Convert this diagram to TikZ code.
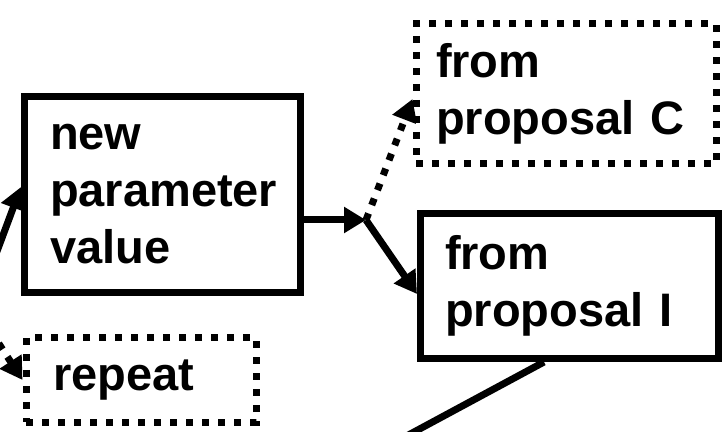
\documentclass[tikz,border=0pt]{standalone}
\usepackage{fontspec}
\setmainfont{Liberation Sans}
\usetikzlibrary{arrows.meta,positioning,backgrounds}

\begin{document}
\begin{tikzpicture}[x=1pt, y=1pt,
    every node/.style={font=\fontsize{47}{57}\selectfont\bfseries},
    stepbox/.style={draw, fill=white, line width=7pt, inner xsep=22pt, inner ysep=0pt, align=left},
    optbox/.style={stepbox, dash pattern=on 7pt off 9pt},
    flow/.style={line width=7pt, -{Triangle[length=22pt, width=25pt]}},
    optflow/.style={flow, dash pattern=on 7pt off 9pt}]
    \useasboundingbox (0,0) rectangle (728,431);
    \clip (0,0) rectangle (728,431);
    % Boxes
    \node[stepbox, inner xsep=25.5pt, text width=225pt, minimum width=276pt, minimum height=196pt] (par) at (162.5,236.5) {new\\parameter\\value};
    \node[optbox, inner xsep=20pt, text width=260pt, minimum width=300pt, minimum height=140pt] (fromC) at (566,337) {from\\proposal C};
    \node[stepbox, inner xsep=24.5pt, text width=249pt, minimum width=298pt, minimum height=145pt] (fromI) at (569.5,145) {from\\proposal I};
    \node[optbox, inner xsep=27pt, text width=176pt, minimum width=230pt, minimum height=84pt] (rep) at (141,51) {repeat};
    % Loose ends and the split point
    \coordinate (inA) at (-10,161);
    \coordinate (inB) at (-10,101);
    \coordinate (outI) at (375,-22);
    \coordinate (J) at (366,211);
    % Arrows, kept behind the boxes
    \begin{scope}[on background layer]
        \draw[flow] (inA) -- ([yshift=7.5pt]par.west);
        \draw[flow] (J -| par.east) -- (J);
        \draw[optflow] (J) -- ([yshift=-5pt]fromC.west);
        \draw[flow] (J) -- ([yshift=-8pt]fromI.west);
        \draw[optflow] (inB) -- (rep.west);
        \draw[line width=7pt] ([xshift=-25.5pt]fromI.south) -- (outI);
    \end{scope}
\end{tikzpicture}
\end{document}
